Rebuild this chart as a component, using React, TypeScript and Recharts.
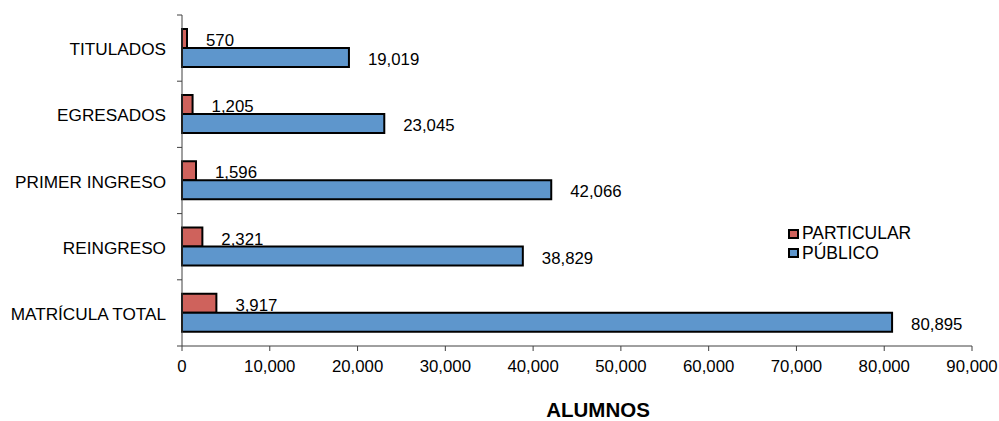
import React from 'react';
import {
  BarChart,
  Bar,
  XAxis,
  YAxis,
  Legend,
  LabelList,
} from 'recharts';

const categories = ['TITULADOS', 'EGRESADOS', 'PRIMER INGRESO', 'REINGRESO', 'MATRÍCULA TOTAL'];
const particular = [570, 1205, 1596, 2321, 3917];
const publico = [19019, 23045, 42066, 38829, 80895];
const xTicks = [0, 10000, 20000, 30000, 40000, 50000, 60000, 70000, 80000, 90000];

const data = categories.map((name, i) => ({
  name,
  particular: particular[i],
  publico: publico[i],
}));

const FONT = '"Liberation Sans", Arial, sans-serif';
const RED = '#CF625C';
const BLUE = '#5E96CC';
const AXIS = '#404040';

const PLOT_LEFT = 182;
const PLOT_TOP = 15;
const PLOT_BOTTOM = 346;
const BAND = (PLOT_BOTTOM - PLOT_TOP) / categories.length;

const fmt = (v: number) => v.toLocaleString('en-US');

const CategoryTick = (props: any) => {
  const { y, payload, index } = props;
  return (
    <g>
      <text
        x={PLOT_LEFT - 16}
        y={y + 1}
        textAnchor="end"
        dominantBaseline="central"
        fontSize={17.2}
        fontFamily={FONT}
        fill="#000"
      >
        {payload.value}
      </text>
      <line x1={PLOT_LEFT - 5} x2={PLOT_LEFT} y1={y - BAND / 2} y2={y - BAND / 2} stroke={AXIS} />
      {index === categories.length - 1 && (
        <line x1={PLOT_LEFT - 5} x2={PLOT_LEFT} y1={y + BAND / 2} y2={y + BAND / 2} stroke={AXIS} />
      )}
    </g>
  );
};

const ValueLabel = (props: any) => {
  const { x, y, width, height, value } = props;
  return (
    <text
      x={x + width + 19}
      y={y + height / 2 + 2}
      dominantBaseline="central"
      fontSize={16.8}
      fontFamily={FONT}
      fill="#000"
    >
      {fmt(value)}
    </text>
  );
};

const AxisTitle = (props: any) => {
  const { viewBox } = props;
  return (
    <text
      x={viewBox.x + viewBox.width / 2 + 21}
      y={409}
      textAnchor="middle"
      dominantBaseline="central"
      fontSize={20.5}
      fontWeight="bold"
      fontFamily={FONT}
      fill="#000"
    >
      ALUMNOS
    </text>
  );
};

const LegendContent = () => (
  <div style={{ fontFamily: FONT, fontSize: 17.5, color: '#000', lineHeight: '19.5px' }}>
    {[
      { label: 'PARTICULAR', color: RED },
      { label: 'PÚBLICO', color: BLUE },
    ].map((item) => (
      <div key={item.label} style={{ display: 'flex', alignItems: 'center', whiteSpace: 'nowrap' }}>
        <svg width={11} height={10} style={{ flexShrink: 0, marginRight: 3 }}>
          <rect x={1} y={1} width={9} height={8} fill={item.color} stroke="#000" strokeWidth={2} />
        </svg>
        {item.label}
      </div>
    ))}
  </div>
);

export default function App() {
  return (
    <div style={{ position: 'absolute', left: 0, top: 0, width: 999, height: 421, background: '#fff' }}>
      <BarChart
        width={999}
        height={421}
        data={data}
        layout="vertical"
        margin={{ top: PLOT_TOP, right: 27, bottom: 45, left: 0 }}
        barCategoryGap="21%"
        barGap={0}
        style={{ fontFamily: FONT }}
      >
        <XAxis
          type="number"
          domain={[0, 90000]}
          ticks={xTicks}
          tickFormatter={fmt}
          height={30}
          interval={0}
          tick={{ fontSize: 16.8, fill: '#000', fontFamily: FONT }}
          tickSize={5}
          tickMargin={9}
          stroke={AXIS}
          label={<AxisTitle />}
        />
        <YAxis
          type="category"
          dataKey="name"
          width={PLOT_LEFT}
          tick={<CategoryTick />}
          tickLine={false}
          interval={0}
          stroke={AXIS}
        />
        <Legend
          layout="vertical"
          align="center"
          verticalAlign="middle"
          content={<LegendContent />}
          wrapperStyle={{ left: 788, top: 224, width: 160 }}
        />
        <Bar dataKey="particular" name="PARTICULAR" fill={RED} stroke="#000" strokeWidth={2} isAnimationActive={false}>
          <LabelList dataKey="particular" content={<ValueLabel />} />
        </Bar>
        <Bar dataKey="publico" name="PÚBLICO" fill={BLUE} stroke="#000" strokeWidth={2} isAnimationActive={false}>
          <LabelList dataKey="publico" content={<ValueLabel />} />
        </Bar>
      </BarChart>
    </div>
  );
}
